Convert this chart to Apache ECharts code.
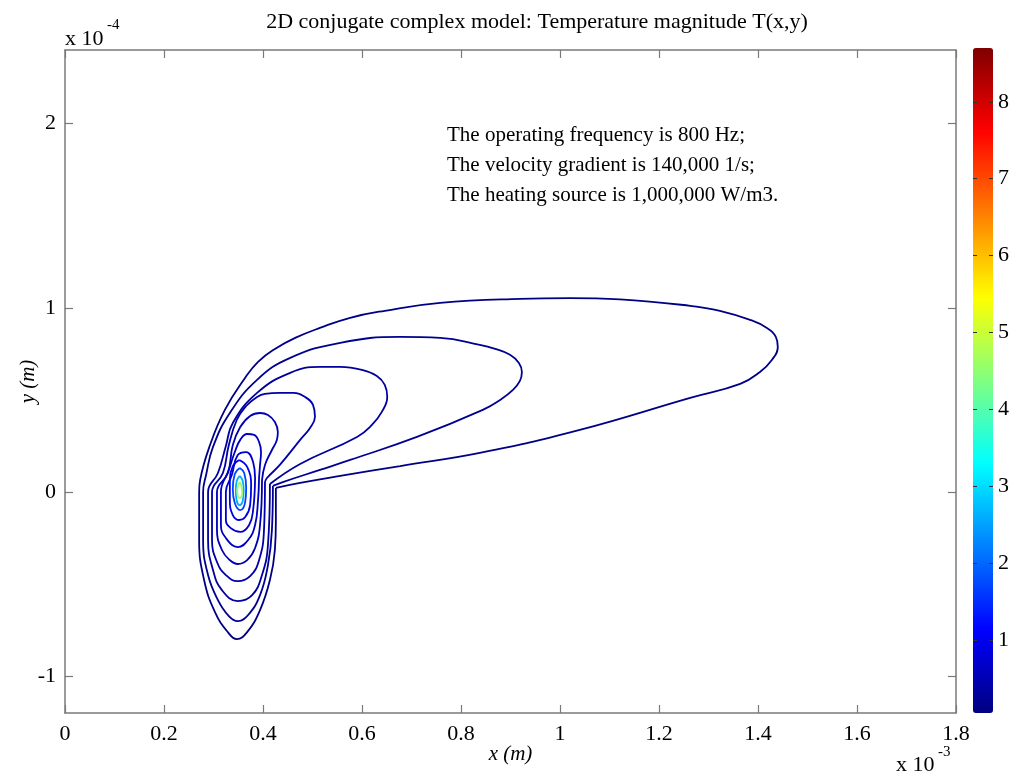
<!DOCTYPE html>
<html><head><meta charset="utf-8">
<script src="https://cdn.jsdelivr.net/npm/echarts@6/dist/echarts.min.js"></script>
<style>html,body{margin:0;padding:0;background:#fff}#c{width:1012px;height:774px}</style>
</head><body><div id="c"></div>
<script>
// Units: x in 1e-3 m, y in 1e-4 m (as in the axis multipliers)
const xRange = [0, 1.8];
const yRange = [-1.2, 2.4];
const yTicks = [-1, 0, 1, 2];
const cbRange = [0.05, 8.7];
const cbTicks = [1, 2, 3, 4, 5, 6, 7, 8];
const titleText = '2D conjugate complex model: Temperature magnitude T(x,y)';
const noteLines = ['The operating frequency is 800 Hz;', 'The velocity gradient is 140,000 1/s;', 'The heating source is 1,000,000 W/m3.'];

// temperature level of each contour line
const contourLevels = [0.1, 0.2, 0.3, 0.4, 0.5, 0.6, 0.7, 0.9, 1.7, 2.6, 4.6];

const contour1 = [[0.426,0.022],[0.475,0.049],[0.556,0.087],[0.677,0.141],[0.838,0.212],[1.040,0.337],[1.263,0.511],[1.364,0.587],[1.404,0.652],[1.428,0.717],[1.440,0.788],[1.436,0.842],[1.418,0.891],[1.384,0.935],[1.323,0.984],[1.263,1.011],[1.121,1.046],[1.020,1.053],[0.919,1.049],[0.758,1.027],[0.646,0.984],[0.576,0.946],[0.515,0.891],[0.465,0.837],[0.424,0.777],[0.390,0.707],[0.364,0.620],[0.323,0.446],[0.293,0.255],[0.273,0.065],[0.271,0],[0.271,-0.261],[0.281,-0.478],[0.303,-0.652],[0.329,-0.761],[0.347,-0.799],[0.368,-0.761],[0.394,-0.641],[0.414,-0.478],[0.424,-0.315],[0.426,-0.152],[0.426,0.022]];
const contour2 = [[0.420,0.033],[0.440,0.054],[0.515,0.120],[0.576,0.174],[0.711,0.299],[0.844,0.446],[0.879,0.500],[0.905,0.554],[0.919,0.603],[0.923,0.652],[0.917,0.701],[0.899,0.745],[0.869,0.777],[0.838,0.799],[0.758,0.837],[0.677,0.842],[0.556,0.810],[0.455,0.728],[0.388,0.609],[0.333,0.429],[0.299,0.245],[0.285,0.092],[0.279,0],[0.279,-0.261],[0.289,-0.451],[0.309,-0.587],[0.331,-0.674],[0.349,-0.701],[0.370,-0.668],[0.394,-0.560],[0.410,-0.397],[0.418,-0.207],[0.420,0.033]];
const contour3 = [[0.414,0.043],[0.475,0.152],[0.590,0.299],[0.620,0.364],[0.640,0.435],[0.651,0.516],[0.646,0.582],[0.630,0.630],[0.600,0.663],[0.556,0.679],[0.515,0.679],[0.455,0.647],[0.388,0.538],[0.339,0.375],[0.325,0.250],[0.309,0.103],[0.289,0],[0.289,-0.261],[0.299,-0.424],[0.317,-0.533],[0.349,-0.592],[0.378,-0.560],[0.398,-0.451],[0.410,-0.288],[0.414,0.043]];
const contour4 = [[0.404,0.054],[0.408,0.076],[0.434,0.147],[0.475,0.283],[0.495,0.348],[0.505,0.408],[0.501,0.473],[0.485,0.516],[0.461,0.538],[0.434,0.538],[0.404,0.533],[0.388,0.516],[0.366,0.467],[0.347,0.391],[0.331,0.255],[0.319,0.103],[0.297,0],[0.297,-0.261],[0.307,-0.380],[0.325,-0.451],[0.349,-0.484],[0.374,-0.457],[0.392,-0.370],[0.402,-0.207],[0.404,0.054]];
const contour5 = [[0.398,0.065],[0.404,0.147],[0.418,0.228],[0.428,0.283],[0.430,0.326],[0.424,0.380],[0.410,0.418],[0.394,0.429],[0.374,0.413],[0.354,0.353],[0.339,0.255],[0.329,0.103],[0.307,0],[0.307,-0.207],[0.317,-0.315],[0.333,-0.370],[0.349,-0.391],[0.368,-0.370],[0.384,-0.304],[0.394,-0.179],[0.398,0.065]];
const contour6 = [[0.392,0.076],[0.394,0.147],[0.396,0.217],[0.392,0.272],[0.382,0.310],[0.368,0.315],[0.354,0.283],[0.343,0.217],[0.331,0.120],[0.315,0],[0.315,-0.179],[0.325,-0.250],[0.349,-0.299],[0.370,-0.261],[0.384,-0.179],[0.390,-0.043],[0.392,0.076]];
const contour7 = [[0.384,0.076],[0.380,0.163],[0.366,0.217],[0.349,0.201],[0.337,0.092],[0.325,0],[0.325,-0.152],[0.335,-0.196],[0.354,-0.217],[0.372,-0.179],[0.380,-0.098],[0.384,0.076]];
const contour8 = [[0.352,0.174],[0.368,0.136],[0.376,0.038],[0.374,-0.071],[0.364,-0.136],[0.352,-0.152],[0.339,-0.125],[0.333,-0.043],[0.333,0.065],[0.339,0.141],[0.352,0.174]];
const contour9 = [[0.353,0.130],[0.362,0.103],[0.366,0.022],[0.364,-0.054],[0.354,-0.098],[0.343,-0.060],[0.339,0.016],[0.343,0.098],[0.353,0.130]];
const contour10 = [[0.353,0.087],[0.359,0.060],[0.361,0.011],[0.359,-0.049],[0.353,-0.071],[0.347,-0.049],[0.345,0.011],[0.347,0.060],[0.353,0.087]];
const contour11 = [[0.353,0.054],[0.357,0.027],[0.358,-0.005],[0.356,-0.027],[0.353,-0.033],[0.349,-0.022],[0.348,0.011],[0.350,0.038],[0.353,0.054]];
const contours = [contour1,contour2,contour3,contour4,contour5,contour6,contour7,contour8,contour9,contour10,contour11];

function jet(v){
  const f=(v-cbRange[0])/(cbRange[1]-cbRange[0]);
  const c=k=>Math.round(255*Math.max(0,Math.min(1,1.5-Math.abs(4*f-k))));
  return 'rgb('+c(3)+','+c(2)+','+c(1)+')';
}
const jetStops=[];
for(let k=0;k<=8;k++){ jetStops.push(jet(cbRange[0]+(cbRange[1]-cbRange[0])*k/8)); }

const FONT='Liberation Serif';
const axisGray='#7a7a7a';
const chart=echarts.init(document.getElementById('c'),null,{renderer:'canvas'});

const series=contours.map((d,i)=>({
  type:'line', xAxisIndex:0, yAxisIndex:0, data:d, showSymbol:false, symbol:'none',
  smooth:0.45, silent:true, lineStyle:{width:1.8,color:jet(contourLevels[i])}, z:3
}));
series.push({type:'scatter', xAxisIndex:1, yAxisIndex:2, data:[], silent:true});

const frameLine={show:true,onZero:false,lineStyle:{color:axisGray,width:1.5}};
const option={
  backgroundColor:'#fff',
  animation:false,
  title:{text:titleText,left:532,top:6,textAlign:'center',textStyle:{fontFamily:FONT,fontSize:22,fontWeight:'normal',color:'#000'}},
  grid:[
    {left:65,top:50,width:891,height:663,outerBoundsMode:'none',containLabel:false},
    {left:973,top:48,width:20,height:665,outerBoundsMode:'none',containLabel:false}
  ],
  xAxis:[
    {type:'value',gridIndex:0,position:'bottom',min:xRange[0],max:xRange[1],interval:0.2,
     axisLine:frameLine,
     axisTick:{show:true,inside:true,length:8,lineStyle:{color:axisGray,width:1.2}},
     axisLabel:{show:true,margin:10,fontFamily:FONT,fontSize:22,color:'#000'},
     splitLine:{show:false},
     name:'x (m)',nameLocation:'middle',nameGap:31,nameMoveOverlap:false,nameTextStyle:{fontFamily:FONT,fontSize:21,fontStyle:'italic',color:'#000'}},
    {type:'value',gridIndex:1,min:0,max:1,show:false},
    {type:'value',gridIndex:0,position:'top',min:xRange[0],max:xRange[1],interval:0.2,
     axisLine:frameLine,
     axisTick:{show:true,inside:true,length:8,lineStyle:{color:axisGray,width:1.2}},
     axisLabel:{show:false},splitLine:{show:false}}
  ],
  yAxis:[
    {type:'value',gridIndex:0,position:'left',min:yRange[0],max:yRange[1],
     axisLine:frameLine,
     axisTick:{show:true,inside:true,length:8,customValues:yTicks,lineStyle:{color:axisGray,width:1.2}},
     axisLabel:{show:true,margin:9,customValues:yTicks,fontFamily:FONT,fontSize:22,color:'#000'},
     splitLine:{show:false},
     name:'y (m)',nameLocation:'middle',nameGap:26,nameRotate:90,nameMoveOverlap:false,nameTextStyle:{fontFamily:FONT,fontSize:21,fontStyle:'italic',color:'#000'}},
    {type:'value',gridIndex:0,position:'right',min:yRange[0],max:yRange[1],
     axisLine:frameLine,
     axisTick:{show:true,inside:true,length:8,customValues:yTicks,lineStyle:{color:axisGray,width:1.2}},
     axisLabel:{show:false},splitLine:{show:false}},
    {type:'value',gridIndex:1,position:'right',min:cbRange[0],max:cbRange[1],
     axisLine:{show:false,onZero:false},
     axisTick:{show:true,inside:true,length:4,customValues:cbTicks,lineStyle:{color:'#333',width:1}},
     axisLabel:{show:true,margin:5,customValues:cbTicks,fontFamily:FONT,fontSize:22,color:'#000'},
     splitLine:{show:false},z:5},
    {type:'value',gridIndex:1,position:'left',min:cbRange[0],max:cbRange[1],
     axisLine:{show:false,onZero:false},
     axisTick:{show:true,inside:true,length:4,customValues:cbTicks,lineStyle:{color:'#333',width:1}},
     axisLabel:{show:false},splitLine:{show:false},z:5}
  ],
  visualMap:{type:'continuous',min:cbRange[0],max:cbRange[1],seriesIndex:series.length-1,
    left:973,top:48,itemWidth:20,itemHeight:665,padding:0,calculable:false,hoverLink:false,
    text:null,showLabel:false,inRange:{color:jetStops},orient:'vertical'},
  graphic:[
    {type:'text',left:65,top:28,style:{text:'x 10',font:'22px "Liberation Serif"',fill:'#000'}},
    {type:'text',left:107,top:18,style:{text:'-4',font:'15px "Liberation Serif"',fill:'#000'}},
    {type:'text',left:896,top:754,style:{text:'x 10',font:'22px "Liberation Serif"',fill:'#000'}},
    {type:'text',left:938,top:745,style:{text:'-3',font:'15px "Liberation Serif"',fill:'#000'}},
    {type:'text',left:447,top:120,style:{text:noteLines.join('\n'),font:'21px "Liberation Serif"',lineHeight:30,fill:'#000'}}
  ],
  series:series
};
chart.setOption(option);
</script></body></html>
